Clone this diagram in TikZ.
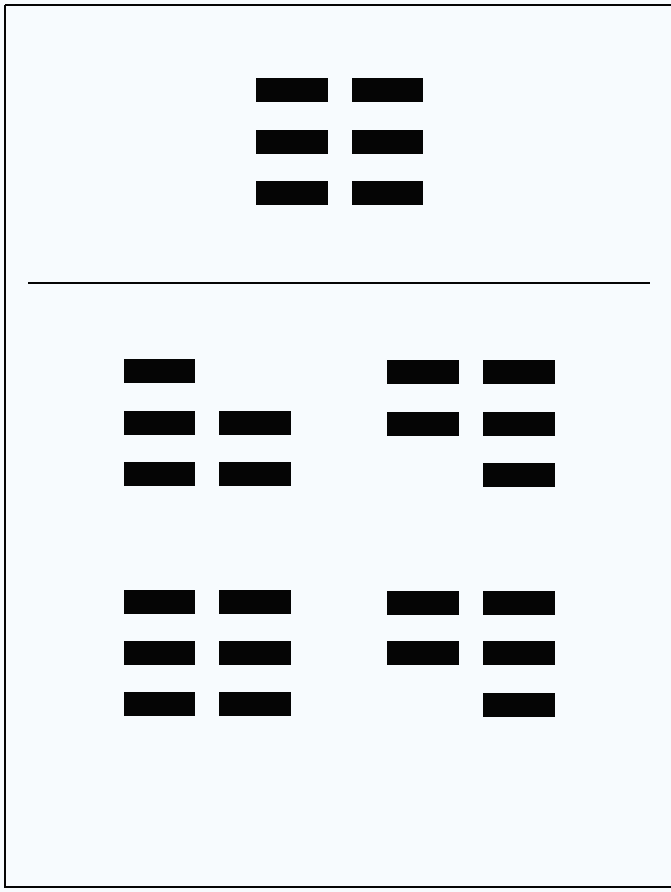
\documentclass[tikz,border=0pt]{standalone}
\definecolor{paper}{HTML}{F7FBFE}
\definecolor{ink}{HTML}{050505}
\begin{document}
\begin{tikzpicture}[x=1pt,y=-1pt,
  bar/.style={fill=ink,draw=none},
  frameline/.style={draw=ink,line width=1.5pt},
  rule/.style={draw=ink,line width=1.6pt}]
\useasboundingbox (0,0) rectangle (671,892);
\fill[paper] (0,0) rectangle (671,892);
\draw[frameline] (5,5) -- (671,5);
\draw[frameline] (5,5) -- (5,887) -- (671,887);
% top group
\foreach \y in {78,130,181}{
  \fill[bar] (256,\y) rectangle (328,\y+24);
  \fill[bar] (352,\y) rectangle (423,\y+24);
}
% rule
\draw[rule] (28,283) -- (650,283);
% upper-left group
\fill[bar] (124,359) rectangle (195,383);
\foreach \y in {411,462}{
  \fill[bar] (124,\y) rectangle (195,\y+24);
  \fill[bar] (219,\y) rectangle (291,\y+24);
}
% upper-right group
\foreach \y in {360,412}{
  \fill[bar] (387,\y) rectangle (459,\y+24);
  \fill[bar] (483,\y) rectangle (555,\y+24);
}
\fill[bar] (483,463) rectangle (555,487);
% lower-left group
\foreach \y in {590,641,692}{
  \fill[bar] (124,\y) rectangle (195,\y+24);
  \fill[bar] (219,\y) rectangle (291,\y+24);
}
% lower-right group
\foreach \y in {591,641}{
  \fill[bar] (387,\y) rectangle (459,\y+24);
  \fill[bar] (483,\y) rectangle (555,\y+24);
}
\fill[bar] (483,693) rectangle (555,717);
\end{tikzpicture}
\end{document}
